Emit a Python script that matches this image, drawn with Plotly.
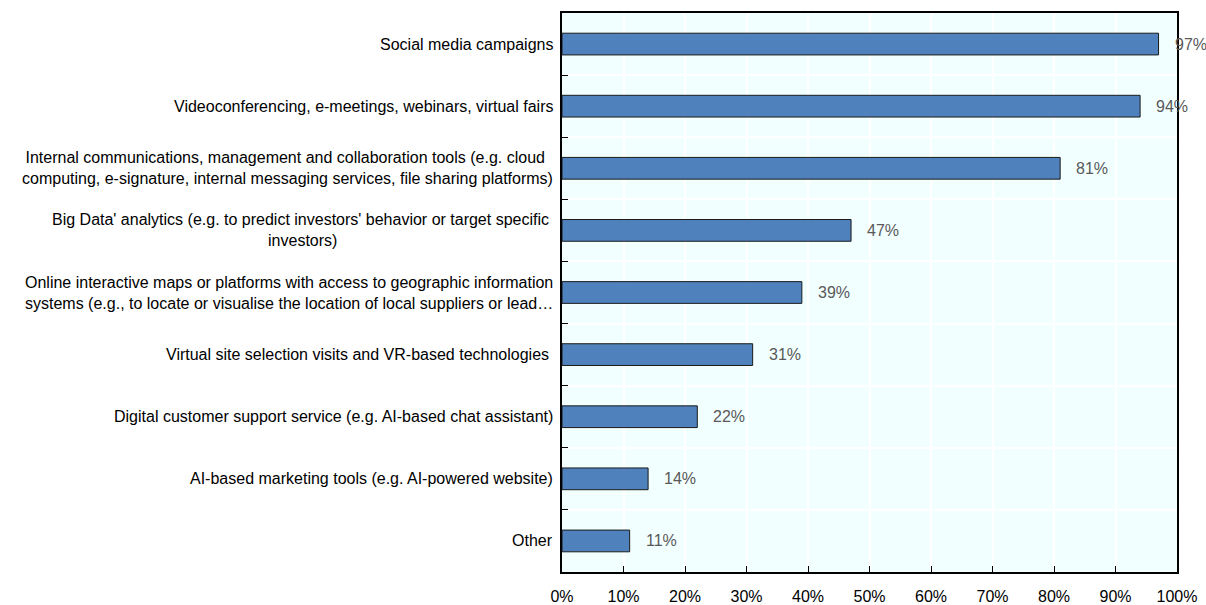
import plotly.graph_objects as go

categories = [
    "Social media campaigns",
    "Videoconferencing, e-meetings, webinars, virtual fairs",
    "Internal communications, management and collaboration tools (e.g. cloud <br>computing, e-signature, internal messaging services, file sharing platforms)",
    "Big Data' analytics (e.g. to predict investors' behavior or target specific <br>investors)",
    "Online interactive maps or platforms with access to geographic information<br>systems (e.g., to locate or visualise the location of local suppliers or lead…",
    "Virtual site selection visits and VR-based technologies ",
    "Digital customer support service (e.g. AI-based chat assistant)",
    "AI-based marketing tools (e.g. AI-powered website)",
    "Other",
]
shares = [97, 94, 81, 47, 39, 31, 22, 14, 11]
x_ticks = list(range(0, 101, 10))

FONT = "Liberation Sans, Arial, sans-serif"
FSIZE = 16

fig = go.Figure()
fig.add_trace(go.Bar(
    x=shares,
    y=categories,
    orientation="h",
    width=0.35,
    marker=dict(color="#4F81BD", line=dict(color="#1A1A1A", width=1)),
    hoverinfo="skip",
))

# value labels to the right of each bar
for cat, v in zip(categories, shares):
    fig.add_annotation(
        x=v, y=cat, xref="x", yref="y",
        text=f"{v}%", showarrow=False,
        xanchor="left", xshift=14,
        font=dict(family=FONT, size=FSIZE, color="#595959"),
    )

# category labels, centred lines, right-anchored against the axis
for cat in categories:
    fig.add_annotation(
        x=0, y=cat, xref="paper", yref="y",
        text=cat, showarrow=False, align="center",
        xanchor="right", xshift=-7,
        font=dict(family=FONT, size=FSIZE, color="#000000"),
    )

fig.update_layout(
    width=1206, height=605,
    margin=dict(l=562, r=29, t=13, b=33),
    paper_bgcolor="white",
    plot_bgcolor="#F2FFFF",
    showlegend=False,
    font=dict(family=FONT, size=FSIZE, color="#000000"),
)
fig.update_xaxes(
    range=[0, 100],
    tickvals=x_ticks,
    ticktext=[f"{t}%" for t in x_ticks],
    ticks="inside", ticklen=6, tickcolor="#000000", tickwidth=1,
    ticklabelstandoff=9,
    automargin=False,
    showgrid=True, gridcolor="#FFFFFF", gridwidth=1.5,
    showline=True, linecolor="#000000", linewidth=2, mirror=True,
    zeroline=False,
    tickfont=dict(family=FONT, size=FSIZE, color="#000000"),
)
fig.update_yaxes(
    categoryorder="array", categoryarray=categories,
    autorange="reversed",
    tickson="boundaries",
    ticks="inside", ticklen=6, tickcolor="#000000", tickwidth=1,
    showticklabels=False,
    automargin=False,
    showgrid=True, gridcolor="#FFFFFF", gridwidth=1.5,
    showline=True, linecolor="#000000", linewidth=2, mirror=True,
)

fig.write_html("out.html")
